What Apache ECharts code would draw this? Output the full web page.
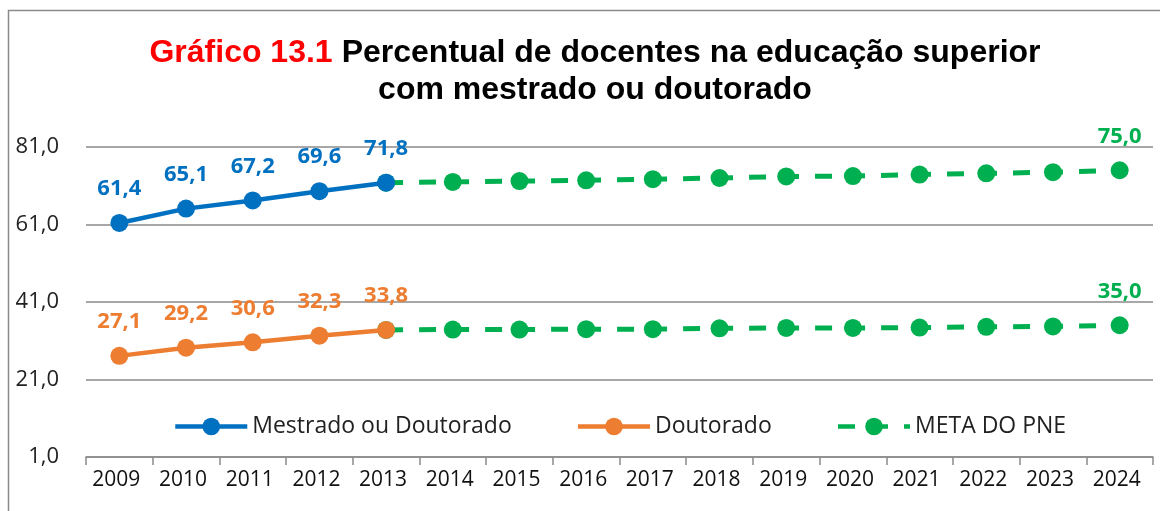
<!DOCTYPE html>
<html><head><meta charset="utf-8">
<script src="https://cdn.jsdelivr.net/npm/echarts@6/dist/echarts.min.js"></script>
<style>html,body{margin:0;padding:0;background:#fff}#c{width:1160px;height:511px}</style>
</head><body><div id="c"></div>
<script>
const years = ['2009','2010','2011','2012','2013','2014','2015','2016','2017','2018','2019','2020','2021','2022','2023','2024'];
const mestrado = [61.4, 65.1, 67.2, 69.6, 71.8];
const doutorado = [27.1, 29.2, 30.6, 32.3, 33.8];
// META DO PNE, from 2013 to 2024
const metaMestrado = [71.8, 72.0, 72.2, 72.4, 72.7, 73.0, 73.4, 73.5, 73.9, 74.2, 74.5, 75.0];
const metaDoutorado = [33.8, 33.9, 33.9, 34.0, 34.0, 34.2, 34.3, 34.3, 34.4, 34.6, 34.7, 35.0];
const yTicks = {min: 1, max: 81, interval: 20};

const BLUE = '#0070C0', ORANGE = '#ED7D31', GREEN = '#00B050';
const FONT = 'Open Sans';
const fmt = v => v.toFixed(1).replace('.', ',');
const pad = arr => Array(years.length - arr.length).fill('-').concat(arr);
const lastOnly = arr => arr.map((v, i) => i === arr.length - 1 ? {value: v, label: {show: true}} : v);

const chart = echarts.init(document.getElementById('c'), null, {renderer: 'canvas'});
const dataLabel = color => ({show: true, position: 'top', distance: 14, color: color, fontFamily: FONT, fontWeight: 'bold', fontSize: 22, formatter: p => fmt(p.value)});

chart.setOption({
  animation: false,
  title: {
    text: '{r|Gráfico 13.1}{s| }{b|Percentual de docentes na educação superior}\n{b|com mestrado ou doutorado}',
    left: 590, top: 30, textAlign: 'center',
    textStyle: {
      lineHeight: 37,
      rich: {
        r: {color: '#FF0000', fontFamily: 'Liberation Sans', fontWeight: 'bold', fontSize: 32, lineHeight: 37},
        s: {width: 9, fontSize: 32, lineHeight: 37},
        b: {color: '#000', fontFamily: 'Liberation Sans', fontWeight: 'bold', fontSize: 32, lineHeight: 37}
      }
    }
  },
  graphic: [{type: 'rect', shape: {x: 8.5, y: 10.5, width: 1200, height: 600}, style: {fill: 'none', stroke: '#8a8a8a', lineWidth: 1.5}, silent: true, z: -10}],
  grid: {left: 86, right: 7, top: 147, bottom: 54, containLabel: false},
  legend: {
    left: 168, top: 410, itemWidth: 72, itemHeight: 22, itemGap: 64, itemTextGap: 7,
    lineStyle: {width: 4.5},
    textStyle: {fontFamily: FONT, fontSize: 23, color: '#222'},
    data: ['Mestrado ou Doutorado', 'Doutorado', 'META DO PNE']
  },
  xAxis: {
    type: 'category', data: years, boundaryGap: true,
    axisLine: {lineStyle: {color: '#8a8a8a', width: 1.5}},
    axisTick: {show: true, length: 8, lineStyle: {color: '#8a8a8a', width: 1.5}},
    axisLabel: {fontFamily: FONT, fontSize: 21, color: '#111', margin: 13, interval: 0, padding: [0, 6, 0, 0]}
  },
  yAxis: {
    type: 'value', min: yTicks.min, max: yTicks.max, interval: yTicks.interval,
    axisLine: {show: false}, axisTick: {show: false},
    splitLine: {lineStyle: {color: '#8a8a8a', width: 1.5}},
    axisLabel: {fontFamily: FONT, fontSize: 22, color: '#222', margin: 27, formatter: v => fmt(v)}
  },
  series: [
    {name: 'META DO PNE', type: 'line', data: pad(lastOnly(metaMestrado)), symbol: 'circle', symbolSize: 18, z: 2,
     lineStyle: {color: GREEN, width: 5, type: [17, 16]}, itemStyle: {color: GREEN},
     label: Object.assign(dataLabel(GREEN), {show: false})},
    {name: 'META DO PNE', type: 'line', data: pad(lastOnly(metaDoutorado)), symbol: 'circle', symbolSize: 18, z: 2,
     lineStyle: {color: GREEN, width: 5, type: [17, 16]}, itemStyle: {color: GREEN},
     label: Object.assign(dataLabel(GREEN), {show: false})},
    {name: 'Mestrado ou Doutorado', type: 'line', data: mestrado, symbol: 'circle', symbolSize: 18, z: 3,
     lineStyle: {color: BLUE, width: 4.5}, itemStyle: {color: BLUE}, label: dataLabel(BLUE)},
    {name: 'Doutorado', type: 'line', data: doutorado, symbol: 'circle', symbolSize: 18, z: 3,
     lineStyle: {color: ORANGE, width: 4.5}, itemStyle: {color: ORANGE}, label: dataLabel(ORANGE)}
  ]
});
</script></body></html>
